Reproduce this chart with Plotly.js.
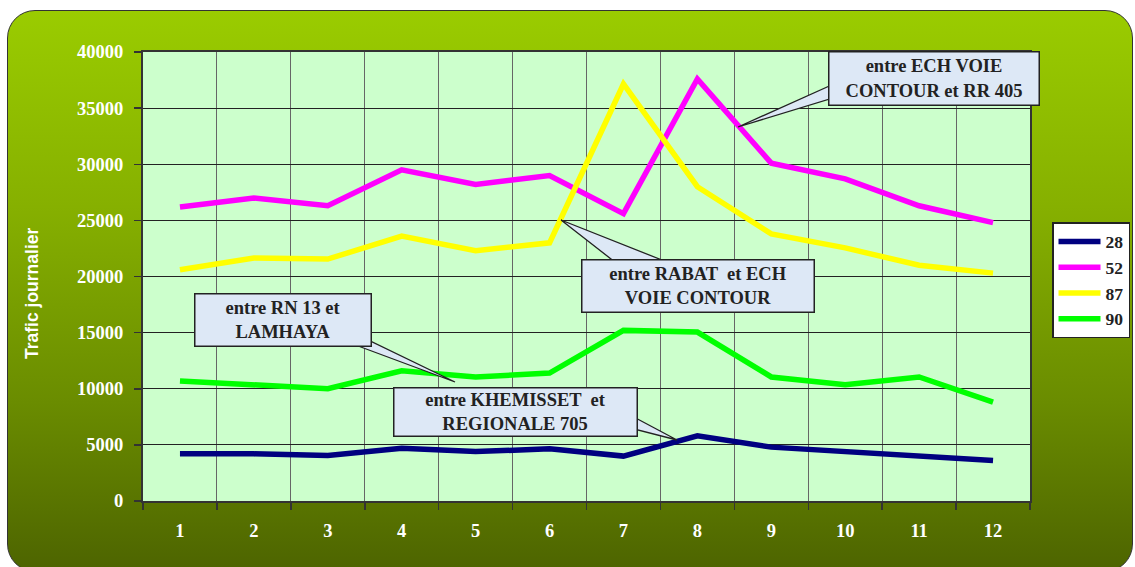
<!DOCTYPE html>
<html>
<head>
<meta charset="utf-8">
<script src="https://cdn.plot.ly/plotly-3.0.1.min.js"></script>
<style>
html, body { margin:0; padding:0; background:#ffffff; width:1135px; height:567px; overflow:hidden; }
#frame { position:absolute; left:7px; top:10px; width:1124px; height:560px; border:1.5px solid #333; border-radius:28px;
  background: linear-gradient(to bottom, #9acc00 0%, #86b000 35%, #6a8c00 70%, #4d6400 100%); }
#chart { position:absolute; left:0; top:0; width:1135px; height:567px; }
</style>
</head>
<body>
<div id="frame"></div>
<div id="chart"></div>
<script>
// Data
const categories = ['1','2','3','4','5','6','7','8','9','10','11','12'];
const seriesNames = ['28','52','87','90'];
const s28 = [4200, 4200, 4050, 4700, 4400, 4650, 4000, 5800, 4800, 4400, 3900, 3600];
const s52 = [26200, 27000, 26300, 29500, 28200, 29000, 25600, 37600, 30100, 28700, 26300, 24800];
const s87 = [20600, 21650, 21550, 23600, 22300, 23000, 37150, 28000, 23800, 22550, 21000, 20300];
const s90 = [10700, 10400, 10000, 11600, 11050, 11400, 15200, 15050, 11050, 10350, 11050, 8800];
const colors = ['#000080', '#ff00ff', '#ffff00', '#00ff00'];
const yTitle = 'Trafic journalier';
const callouts = [
  'entre ECH VOIE<br>CONTOUR et RR 405',
  'entre RABAT  et ECH<br>VOIE CONTOUR',
  'entre RN 13 et<br>LAMHAYA',
  'entre KHEMISSET  et<br>REGIONALE 705'
];

const W = 1135, H = 567;
const ML = 143, MR = 105, MT = 52, MB = 66;
const PW = W - ML - MR, PH = H - MT - MB;
const X = px => (px - ML) / PW;
const Y = py => (H - MB - py) / PH;

const allSeries = [s28, s52, s87, s90];
const traces = allSeries.map((vals, i) => ({
  type: 'scatter', mode: 'lines', x: categories, y: vals,
  name: seriesNames[i], legendgroup: 'g' + i,
  line: { color: colors[i], width: 5.5 },
  hoverinfo: 'skip'
}));

const serif = 'Liberation Serif, Times New Roman, serif';
const boxColor = '#dde8f6';

// callout boxes: [left, top, right, bottom] in px, wedge [tip, base1, base2]
const boxes = [
  { b: [828, 51, 1040, 106], w: [[738,127],[836,83],[836,97]] },
  { b: [581, 259, 815, 313], w: [[561,220],[620,266],[677,266]] },
  { b: [194, 293, 372, 347], w: [[455,382],[342,340],[368,340]] },
  { b: [393, 387, 638, 437], w: [[677,440],[630,415],[630,428]] }
];

const shapes = boxes.map(bx => {
  const [t, a, c] = bx.w;
  return {
    type: 'path', xref: 'paper', yref: 'paper', layer: 'above',
    path: `M ${X(a[0])} ${Y(a[1])} L ${X(t[0])} ${Y(t[1])} L ${X(c[0])} ${Y(c[1])} Z`,
    fillcolor: boxColor, line: { color: '#222', width: 1.3 }
  };
});

const annotations = boxes.map((bx, i) => {
  const [l, t, r, b] = bx.b;
  return {
    xref: 'paper', yref: 'paper', x: X((l + r) / 2), y: Y((t + b) / 2),
    xanchor: 'center', yanchor: 'middle', showarrow: false,
    text: callouts[i], align: 'center',
    width: (r - l) - 7, height: (b - t) - 7, borderpad: 2,
    bgcolor: boxColor, bordercolor: '#222', borderwidth: 1.5,
    font: { family: serif, size: 18.5, color: '#222', weight: 700 }
  };
});

annotations.push({
  xref: 'paper', yref: 'paper', x: X(32), y: Y(293),
  xanchor: 'center', yanchor: 'middle', showarrow: false, textangle: -90,
  text: yTitle,
  font: { family: 'Liberation Sans, Arial, sans-serif', size: 17.5, color: '#ffffff', weight: 700 }
});

const layout = {
  width: W, height: H,
  margin: { l: ML, r: MR, t: MT, b: MB, pad: 0, autoexpand: false },
  paper_bgcolor: 'rgba(0,0,0,0)',
  plot_bgcolor: '#ccffcc',
  showlegend: true,
  legend: {
    x: X(1052), y: Y(222), xanchor: 'left', yanchor: 'top',
    bgcolor: '#ffffff', bordercolor: '#222', borderwidth: 1.5,
    font: { family: serif, size: 17.5, color: '#222', weight: 700 },
    tracegroupgap: 4, itemwidth: 42, traceorder: 'normal'
  },
  xaxis: {
    type: 'category', tickson: 'boundaries', range: [-0.5, 11.5],
    showgrid: true, gridcolor: '#666', gridwidth: 1,
    ticks: 'outside', ticklen: 7, tickcolor: '#333', tickwidth: 1.5,
    showline: true, linecolor: '#333', linewidth: 2, mirror: true,
    ticklabelstandoff: 12,
    tickfont: { family: serif, size: 18.5, color: '#ffffff', weight: 700 },
    fixedrange: true
  },
  yaxis: {
    range: [0, 40000], dtick: 5000, tick0: 0, tickformat: 'd',
    showgrid: true, gridcolor: '#222', gridwidth: 1, zeroline: false,
    ticks: 'outside', ticklen: 7, tickcolor: '#333', tickwidth: 1.5,
    showline: true, linecolor: '#333', linewidth: 2, mirror: true,
    ticklabelstandoff: 7,
    tickfont: { family: serif, size: 18.5, color: '#ffffff', weight: 700 },
    fixedrange: true
  },
  shapes: shapes,
  annotations: annotations
};

Plotly.newPlot('chart', traces, layout, { displayModeBar: false, staticPlot: true });
</script>
</body>
</html>
